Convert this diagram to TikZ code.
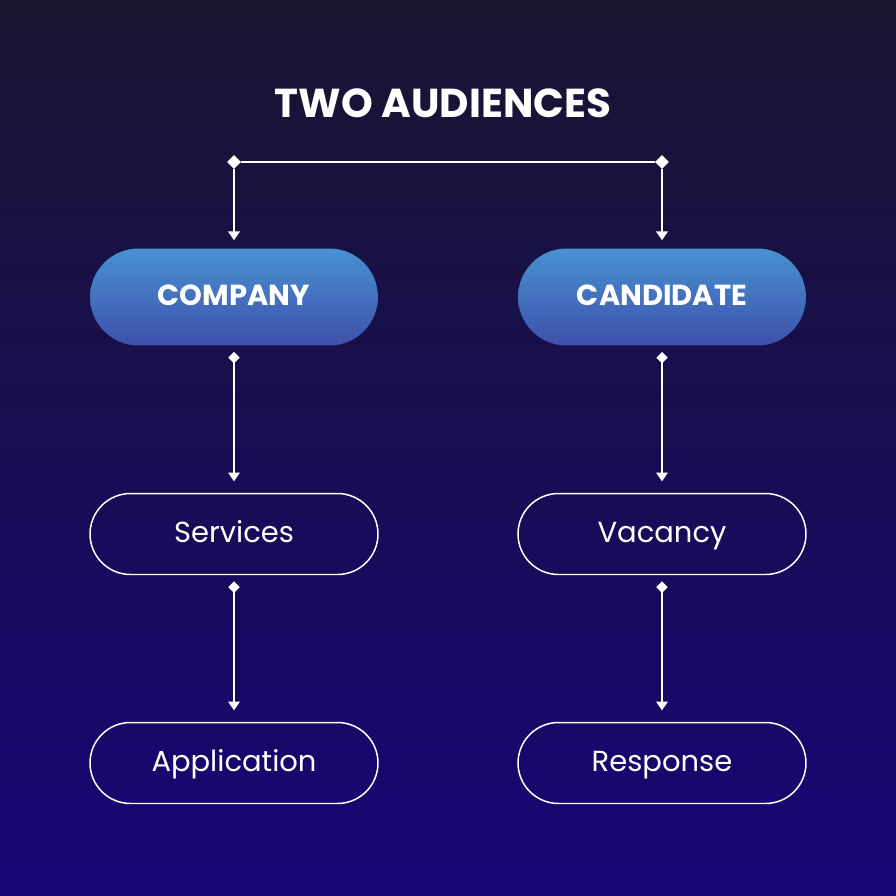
\documentclass[tikz,border=0pt]{standalone}
\usepackage{fontspec}
\setmainfont{Poppins}
\usepackage{tikz}
\usetikzlibrary{arrows.meta}
\usetikzlibrary{shapes,positioning}

\definecolor{bgtop}{RGB}{25,21,48}
\definecolor{bgbot}{RGB}{22,6,118}
\definecolor{headtop}{RGB}{72,146,208}
\definecolor{headbot}{RGB}{62,80,172}

\tikzset{
    head/.style={rectangle, rounded corners=0.97cm, minimum width=5.76cm, minimum height=1.94cm,
        top color=headtop, bottom color=headbot, text=white, text height=0.98em, text depth=0pt,
        font=\fontsize{16.5}{19}\selectfont\bfseries},
    item/.style={rectangle, rounded corners=0.81cm, draw=white, line width=0.85pt, minimum width=5.76cm,
        minimum height=1.62cm, text=white, text height=0.98em, text depth=0pt,
        font=\fontsize{16.5}{19}\selectfont},
    knot/.style={diamond, fill=white, inner sep=0pt, minimum size=8pt},
    link/.style={white, line width=1.1pt},
    arr/.style={link, {Diamond[width=6.5pt,length=6.5pt]}-{Triangle[width=6.5pt,length=5pt]},
        shorten <=3.5pt, shorten >=6.5pt}
}

\begin{document}
\begin{tikzpicture}[x=0.02cm,y=-0.02cm]
        % background
        \shade[top color=bgtop, bottom color=bgbot] (0,0) rectangle (896,896);
        \useasboundingbox (0,0) rectangle (896,896);

        \node[text=white, font=\fontsize{23}{28}\selectfont\bfseries] (title) at (443,103) {TWO AUDIENCES};

        % two columns
        \node[head] (company) at (234,297) {COMPANY};
        \node[head] (candidate) at (662,297) {CANDIDATE};
        \node[item] (services) at (234,534) {Services};
        \node[item] (vacancy) at (662,534) {Vacancy};
        \node[item] (application) at (234,763) {Application};
        \node[item] (response) at (662,763) {Response};

        % top bracket
        \node[knot] (topL) at (234,162) {};
        \node[knot] (topR) at (662,162) {};
        \draw[link] (topL) -- (topR);
        \draw[link,-{Triangle[width=6.5pt,length=5pt]}, shorten >=4.5pt] (topL) -- (company);
        \draw[link,-{Triangle[width=6.5pt,length=5pt]}, shorten >=4.5pt] (topR) -- (candidate);

        \draw[arr] (company) -- (services);
        \draw[arr] (candidate) -- (vacancy);
        \draw[arr] (services) -- (application);
        \draw[arr] (vacancy) -- (response);
    \end{tikzpicture}
\end{document}
